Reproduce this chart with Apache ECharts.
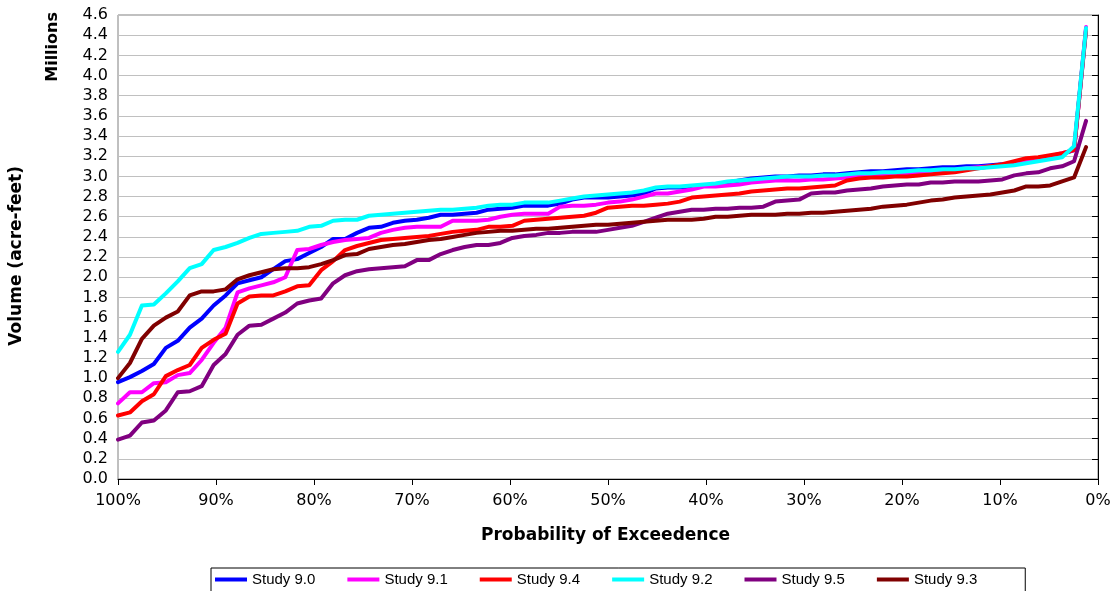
<!DOCTYPE html>
<html>
<head>
<meta charset="utf-8">
<script src="https://cdn.jsdelivr.net/npm/echarts@6/dist/echarts.min.js"></script>
<style>
html,body{margin:0;padding:0;background:#fff;}
#chart{width:1115px;height:591px;}
</style>
</head>
<body>
<div id="chart"></div>
<script>
// Exceedance probability (%) of each ranked value (82 ranked years)
const exceedance = [100.00,98.78,97.56,96.34,95.12,93.90,92.68,91.46,90.24,89.02,87.80,86.59,85.37,84.15,82.93,81.71,80.49,79.27,78.05,76.83,75.61,74.39,73.17,71.95,70.73,69.51,68.29,67.07,65.85,64.63,63.41,62.20,60.98,59.76,58.54,57.32,56.10,54.88,53.66,52.44,51.22,50.00,48.78,47.56,46.34,45.12,43.90,42.68,41.46,40.24,39.02,37.80,36.59,35.37,34.15,32.93,31.71,30.49,29.27,28.05,26.83,25.61,24.39,23.17,21.95,20.73,19.51,18.29,17.07,15.85,14.63,13.41,12.20,10.98,9.76,8.54,7.32,6.10,4.88,3.66,2.44,1.22];

// Volume, millions of acre-feet
const study90 = [0.96,1.01,1.07,1.14,1.30,1.37,1.50,1.59,1.72,1.82,1.94,1.97,2.00,2.08,2.16,2.18,2.24,2.30,2.38,2.38,2.44,2.49,2.50,2.54,2.56,2.57,2.59,2.62,2.62,2.63,2.64,2.67,2.68,2.69,2.71,2.71,2.71,2.73,2.77,2.79,2.79,2.79,2.80,2.81,2.83,2.88,2.89,2.89,2.90,2.91,2.92,2.94,2.96,2.98,2.99,3.00,3.00,3.01,3.01,3.02,3.02,3.03,3.04,3.05,3.05,3.06,3.07,3.07,3.08,3.09,3.09,3.10,3.10,3.11,3.12,3.13,3.15,3.17,3.19,3.22,3.26,4.46];
const study91 = [0.75,0.86,0.86,0.95,0.96,1.03,1.05,1.18,1.35,1.50,1.85,1.89,1.92,1.95,2.00,2.27,2.28,2.32,2.35,2.37,2.38,2.39,2.44,2.47,2.49,2.50,2.50,2.50,2.56,2.56,2.56,2.57,2.60,2.62,2.63,2.63,2.63,2.70,2.71,2.71,2.72,2.74,2.75,2.77,2.80,2.83,2.83,2.85,2.87,2.90,2.90,2.91,2.92,2.94,2.95,2.96,2.96,2.96,2.97,2.97,2.98,2.99,3.00,3.01,3.01,3.02,3.02,3.03,3.04,3.05,3.06,3.08,3.09,3.10,3.11,3.13,3.16,3.18,3.20,3.23,3.26,4.48];
const study94 = [0.63,0.66,0.77,0.84,1.02,1.08,1.13,1.30,1.38,1.44,1.74,1.81,1.82,1.82,1.86,1.91,1.92,2.07,2.16,2.27,2.31,2.34,2.37,2.38,2.39,2.40,2.41,2.43,2.45,2.46,2.47,2.50,2.50,2.51,2.56,2.57,2.58,2.59,2.60,2.61,2.64,2.69,2.70,2.71,2.71,2.72,2.73,2.75,2.79,2.80,2.81,2.82,2.83,2.85,2.86,2.87,2.88,2.88,2.89,2.90,2.91,2.96,2.98,2.99,2.99,3.00,3.00,3.01,3.02,3.03,3.04,3.06,3.08,3.10,3.12,3.15,3.18,3.19,3.21,3.23,3.26,4.45];
const study92 = [1.26,1.43,1.72,1.73,1.84,1.96,2.09,2.13,2.27,2.30,2.34,2.39,2.43,2.44,2.45,2.46,2.50,2.51,2.56,2.57,2.57,2.61,2.62,2.63,2.64,2.65,2.66,2.67,2.67,2.68,2.69,2.71,2.72,2.72,2.74,2.74,2.74,2.76,2.78,2.80,2.81,2.82,2.83,2.84,2.86,2.89,2.90,2.90,2.91,2.92,2.93,2.95,2.96,2.97,2.98,2.99,3.00,3.00,3.00,3.01,3.01,3.02,3.03,3.03,3.04,3.04,3.05,3.06,3.06,3.07,3.07,3.08,3.08,3.09,3.10,3.11,3.13,3.15,3.17,3.19,3.30,4.47];
const study95 = [0.39,0.43,0.56,0.58,0.68,0.86,0.87,0.92,1.13,1.24,1.43,1.52,1.53,1.59,1.65,1.74,1.77,1.79,1.94,2.02,2.06,2.08,2.09,2.10,2.11,2.17,2.17,2.23,2.27,2.30,2.32,2.32,2.34,2.39,2.41,2.42,2.44,2.44,2.45,2.45,2.45,2.47,2.49,2.51,2.55,2.59,2.63,2.65,2.67,2.67,2.68,2.68,2.69,2.69,2.70,2.75,2.76,2.77,2.83,2.84,2.84,2.86,2.87,2.88,2.90,2.91,2.92,2.92,2.94,2.94,2.95,2.95,2.95,2.96,2.97,3.01,3.03,3.04,3.08,3.10,3.15,3.55];
const study93 = [1.00,1.15,1.39,1.52,1.60,1.66,1.82,1.86,1.86,1.88,1.98,2.02,2.05,2.08,2.09,2.09,2.10,2.13,2.17,2.22,2.23,2.28,2.30,2.32,2.33,2.35,2.37,2.38,2.40,2.42,2.44,2.45,2.46,2.46,2.47,2.48,2.48,2.49,2.50,2.51,2.52,2.52,2.53,2.54,2.55,2.56,2.57,2.57,2.57,2.58,2.60,2.60,2.61,2.62,2.62,2.62,2.63,2.63,2.64,2.64,2.65,2.66,2.67,2.68,2.70,2.71,2.72,2.74,2.76,2.77,2.79,2.80,2.81,2.82,2.84,2.86,2.90,2.90,2.91,2.95,2.99,3.29];

const seriesNames = ['Study 9.0','Study 9.1','Study 9.4','Study 9.2','Study 9.5','Study 9.3'];
const seriesValues = [study90, study91, study94, study92, study95, study93];
const seriesColors = ['#0000ff','#ff00ff','#ff0000','#00ffff','#800080','#800000'];

const xTitle = 'Probability of Exceedence';
const yTitle = 'Volume (acre-feet)';
const unitTitle = 'Millions';

const chart = echarts.init(document.getElementById('chart'), null, {renderer:'canvas'});
const tickFont = 'DejaVu Sans';

chart.setOption({
  animation: false,
  backgroundColor: '#ffffff',
  grid: {left: 118, right: 17, top: 15, bottom: 112, show: true, borderColor: '#808080', borderWidth: 1, backgroundColor: 'transparent'},
  xAxis: {
    type: 'value', min: 0, max: 100, interval: 10, inverse: true,
    axisLine: {show: true, lineStyle: {color: '#000', width: 1}},
    axisTick: {show: true, inside: false, length: 6, lineStyle: {color: '#000'}},
    splitLine: {show: false},
    axisLabel: {formatter: '{value}%', color: '#000', fontFamily: tickFont, fontSize: 16, margin: 14}
  },
  yAxis: {
    type: 'value', min: 0, max: 4.6, interval: 0.2,
    axisLine: {show: true, lineStyle: {color: '#000', width: 1}},
    axisTick: {show: true, inside: false, length: 6, lineStyle: {color: '#000'}},
    splitLine: {show: true, lineStyle: {color: '#c0c0c0', width: 1}},
    axisLabel: {formatter: v => v.toFixed(1), color: '#000', fontFamily: tickFont, fontSize: 16, margin: 10}
  },
  legend: {
    data: seriesNames,
    left: 211, top: 568,
    icon: 'rect', itemWidth: 32, itemHeight: 4, itemGap: 32,
    borderColor: '#000', borderWidth: 1, padding: [4, 48, 8, 4],
    textStyle: {color: '#000', fontFamily: 'Liberation Sans', fontSize: 15}
  },
  graphic: [
    {type: 'text', left: 45, top: 12, rotation: Math.PI/2,
     style: {text: unitTitle, fill: '#000', font: 'bold 16px "DejaVu Sans"'}},
    {type: 'text', left: 8, top: 166, rotation: Math.PI/2,
     style: {text: yTitle, fill: '#000', font: 'bold 17px "DejaVu Sans"'}},
    {type: 'text', left: 481, top: 527,
     style: {text: xTitle, fill: '#000', font: 'bold 17px "DejaVu Sans"'}}
  ],
  series: seriesNames.map((name, i) => ({
    name: name, type: 'line', showSymbol: false, symbol: 'none',
    data: exceedance.map((p, j) => [p, seriesValues[i][j]]),
    lineStyle: {color: seriesColors[i], width: 4, join: 'round', cap: 'round'},
    itemStyle: {color: seriesColors[i]},
    z: 2 + i
  }))
});
</script>
</body>
</html>
